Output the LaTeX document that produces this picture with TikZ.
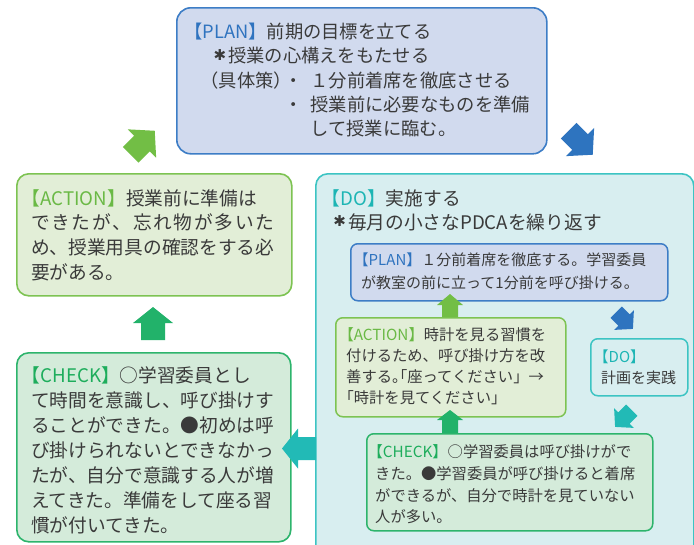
\documentclass[tikz,border=0pt]{standalone}
\usepackage{fontspec}
\setmainfont{Noto Sans CJK JP}
\newfontfamily\djv{DejaVu Sans}
\newcommand\hast{\makebox[0.9em][c]{\raisebox{2.5pt}{\djv\fontsize{15}{15}\selectfont ✱}}}
\definecolor{planF}{HTML}{D1DAEE}
\definecolor{planB}{HTML}{3D7DC6}
\definecolor{planL}{HTML}{2F73BF}
\definecolor{actF}{HTML}{E2EED7}
\definecolor{actB}{HTML}{7DC352}
\definecolor{actL}{HTML}{6AB945}
\definecolor{doF}{HTML}{D8EEF0}
\definecolor{doB}{HTML}{3CC4C3}
\definecolor{doL}{HTML}{1DB5B4}
\definecolor{chkF}{HTML}{D4EBDA}
\definecolor{chkB}{HTML}{2DB46C}
\definecolor{chkL}{HTML}{1EAD5C}
\definecolor{txtC}{HTML}{3A3A3A}
\definecolor{arrLG}{HTML}{72BE45}
\definecolor{arrBlue}{HTML}{2E74BF}
\definecolor{arrTeal}{HTML}{22BAB6}
\definecolor{arrG}{HTML}{22B26A}
\tikzset{
  obox/.style={rectangle, rounded corners=12pt, line width=1.6pt, anchor=north west, inner sep=0pt},
  ibox/.style={rectangle, rounded corners=7pt, line width=1.5pt, anchor=north west, inner sep=0pt},
  txt/.style={inner sep=0pt, text width=360pt, align=left, text=txtC, anchor=base west},
  pics/barrow/.style n args={5}{code={\fill[#5] (-#4,-#3) -- (0,-#3) -- (0,-#2) -- (#1,0) -- (0,#2) -- (0,#3) -- (-#4,#3) -- cycle;}}
}
\begin{document}
\begin{tikzpicture}[x=1pt,y=-1pt]
\useasboundingbox (0,0) rectangle (694,544);
\fill[white] (0,0) rectangle (694,544);
% outer boxes
\node[obox, rounded corners=14pt, draw=planB, fill=planF, minimum width=370pt, minimum height=146pt] (P) at (176,7) {};
\node[obox, draw=actB, fill=actF, minimum width=275pt, minimum height=122pt] (A) at (16,173) {};
\node[obox, draw=doB, fill=doF, minimum width=378pt, minimum height=400pt] (D) at (315,173) {};
\node[obox, draw=chkB, fill=chkF, minimum width=274pt, minimum height=189pt] (C) at (16,352) {};
% inner boxes
\node[ibox, draw=planB, fill=planF, minimum width=317pt, minimum height=57pt] (p) at (350,243) {};
\node[ibox, draw=actB, fill=actF, minimum width=230pt, minimum height=99pt] (a) at (335,317) {};
\node[ibox, draw=doB, fill=doF, minimum width=97pt, minimum height=57pt] (d) at (590,338) {};
\node[ibox, draw=chkB, fill=chkF, minimum width=286pt, minimum height=97pt] (c) at (366,433) {};
% outer texts
\node[txt, font={\fontsize{18.3}{24.2}\selectfont}] (Pt) at (184,38.7) {%
{\color{planL}【PLAN】}前期の目標を立てる\\
\hspace*{1.5em}\hast 授業の心構えをもたせる\\
\hspace*{0.9em}（具体策）\kern-.4em・\kern.4em１分前着席を徹底させる\\
\hspace*{0.9em}\phantom{（具体策）}\kern-.4em・\kern.4em授業前に必要なものを準備\\
\hspace*{0.9em}\phantom{（具体策）・}して授業に臨む。};
\node[txt, font={\fontsize{18.7}{24.7}\selectfont}] (At) at (31,205) {%
\hspace*{-.5em}{\color{actL}【ACTION】}授業前に準備は\\
\leavevmode\hbox to 13em{で\hfil き\hfil た\hfil が\hfil 、\hfil 忘\hfil れ\hfil 物\hfil が\hfil 多\hfil い\hfil た}\\
め、授業用具の確認をする必\\
要がある。};
\node[txt, font={\fontsize{18.7}{24.2}\selectfont}] (Dt) at (331,205) {%
\hspace*{-.5em}{\color{doL}【DO】}実施する\\
\hast 毎月の小さなPDCAを繰り返す};
\node[txt, font={\fontsize{18.7}{25}\selectfont}] (Ct) at (31,382) {%
\hspace*{-.5em}{\color{chkL}【CHECK】}○学習委員とし\\
て時間を意識し、呼び掛けす\\
ることができた。●初めは呼\\
び掛けられないとできなかっ\\
たが、自分で意識する人が増\\
えてきた。準備をして座る習\\
慣が付いてきた。};
% inner texts
\node[txt, font={\fontsize{15}{23}\selectfont}] (pt) at (361,265.5) {%
\hspace*{-.5em}{\color{planL}【PLAN】}１分前着席を徹底する。学習委員\\
が教室の前に立って1分前を呼び掛ける。};
\node[txt, font={\fontsize{15.3}{21}\selectfont}] (at) at (346,340.7) {%
\hspace*{-.5em}{\color{actL}【ACTION】}時計を見る習慣を\\
付けるため、呼び掛け方を改\\
善する。\kern-1em「座ってください」→\\
\hspace*{-.5em}「時計を見てください」};
\node[txt, font={\fontsize{15}{21}\selectfont}] (dt) at (601,362.7) {%
\hspace*{-.5em}{\color{doL}【DO】}\\
計画を実践};
\node[txt, font={\fontsize{15.3}{21.7}\selectfont}] (ct) at (375,457.8) {%
\hspace*{-.5em}{\color{chkL}【CHECK】}○学習委員は呼び掛けがで\\
きた。●学習委員が呼び掛けると着席\\
ができるが、自分で時計を見ていない\\
人が多い。};
% outer arrows
\pic[rotate=45] (ar1) at (142,143.5) {barrow={18}{20}{11}{16}{arrLG}};
\pic[rotate=-45] (ar2) at (580,142) {barrow={18}{20}{11}{16}{arrBlue}};
\pic[rotate=180] (ar3) at (298,448.5) {barrow={16}{20}{11.5}{18}{arrTeal}};
\pic[rotate=90] (ar4) at (153,323) {barrow={16}{20}{12}{17}{arrG}};
% inner arrows
\pic[rotate=90] (ar5) at (450,305) {barrow={11}{13}{8}{12}{arrLG}};
\pic[rotate=90] (ar6) at (450,420) {barrow={10}{13}{8}{13}{arrG}};
\pic[rotate=-45] (ar7) at (624,320) {barrow={12.6}{14}{8}{11}{arrBlue}};
\pic[rotate=-135] (ar8) at (624,418) {barrow={12.6}{14}{8}{11}{arrTeal}};
\end{tikzpicture}
\end{document}
